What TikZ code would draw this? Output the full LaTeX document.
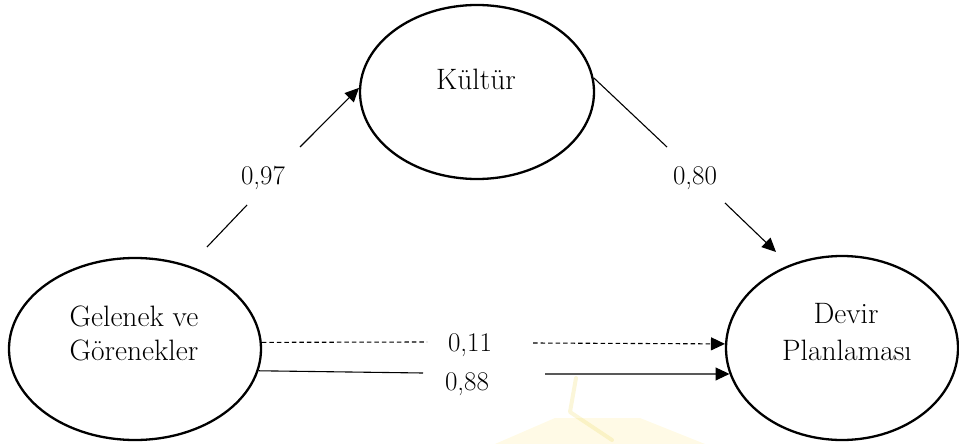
\documentclass[tikz,border=0pt]{standalone}
\usetikzlibrary{arrows.meta,shapes.geometric}

\tikzset{
  construct/.style={ellipse, draw, line width=2.3pt, inner sep=0pt},
  txt/.style={anchor=base, inner sep=0pt, font=\fontsize{27}{32}\selectfont},
  cname/.style={txt, font=\fontsize{29.5}{34}\selectfont},
  path line/.style={line width=1.1pt},
  path arrow/.style={line width=1.1pt, -{Triangle[length=14pt,width=13pt]}},
  path dashed/.style={line width=1.1pt, dash pattern=on 4.5pt off 3pt},
}

\begin{document}
\begin{tikzpicture}[x=1pt,y=-1pt]
  \useasboundingbox (0,0) rectangle (959,444);

  % faint background mark
  \fill[yellow!70!orange, opacity=0.10] (495,444) -- (555,418) -- (640,418) -- (705,444) -- cycle;
  \draw[yellow!60!brown, opacity=0.18, line width=4pt, line cap=round, line join=round]
    (576,378) -- (570,412) -- (612,440);

  % latent constructs
  \node[construct, minimum width=252pt, minimum height=182pt] (g) at (135,349) {};
  \node[construct, minimum width=234pt, minimum height=174pt] (k) at (477,92) {};
  \node[construct, minimum width=232pt, minimum height=184pt] (d) at (842,348) {};

  % construct names
  \node[cname] (g1) at (134,326) {Gelenek ve};
  \node[cname] (g2) at (134,360) {Görenekler};
  \node[cname] (k1) at (476,90)  {Kültür};
  \node[cname] (d1) at (846,323) {Devir};
  \node[cname] (d2) at (847,360) {Planlaması};

  % path coefficients
  \node[txt] (c97) at (263,184) {0,97};
  \node[txt] (c80) at (695,184) {0,80};
  \node[txt] (c11) at (470,351) {0,11};
  \node[txt] (c88) at (467,390) {0,88};

  % break points of the paths around their coefficients
  \coordinate (p97a) at (207,247);
  \coordinate (p97b) at (247,205);
  \coordinate (p97c) at (300,147);
  \coordinate (p80a) at (667,147);
  \coordinate (p80b) at (725,203);
  \coordinate (p80c) at (776,252);
  \coordinate (p11a) at (427,342);
  \coordinate (p11b) at (533,343);
  \coordinate (p88a) at (423,373);
  \coordinate (p88b) at (545,374);

  % Gelenek ve Gorenekler -> Kultur
  \draw[path line] (p97a) -- (p97b);
  \draw[path arrow] (p97c) -- (k.178);

  % Kultur -> Devir Planlamasi
  \draw[path line] (k.7) -- (p80a);
  \draw[path arrow] (p80b) -- (p80c);

  % direct effect (dashed)
  \draw[path dashed] (g.3) -- (p11a);
  \draw[path dashed, -{Triangle[length=14pt,width=13pt]}] (p11b) -- (d.178);

  % total effect
  \draw[path line] (g.-10) -- (p88a);
  \draw[path arrow] (p88b) -- (d.193);
\end{tikzpicture}
\end{document}
